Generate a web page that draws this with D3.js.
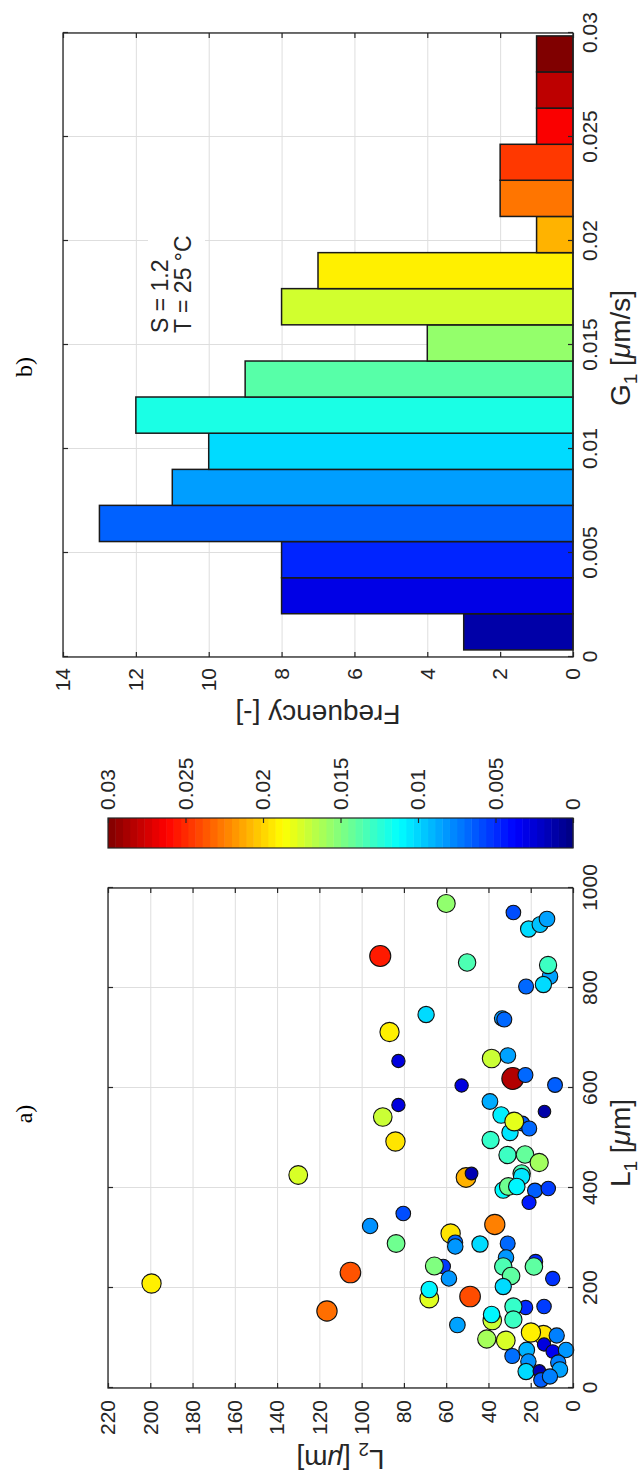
<!DOCTYPE html>
<html>
<head>
<meta charset="utf-8">
<script src="https://cdn.jsdelivr.net/npm/d3@7"></script>
<style>
  body { margin: 0; background: #fff; }
  svg { display: block; }
</style>
</head>
<body>
<svg id="fig" width="641" height="1484"></svg>
<script>
// ---- (a) crystal sizes L1, L2 [µm], coloured and sized by growth rate G1 [µm/s]
const L1 = [969, 951, 918, 927, 938, 864, 851, 823, 846, 807, 803, 747, 739, 737, 712, 654, 659, 665, 619, 626,
            605, 606, 566, 542, 553, 573, 546, 529, 519, 511, 533, 493, 496, 466, 467, 451, 421, 429, 429, 423,
            396, 403, 403, 395, 399, 371, 349, 327, 289, 309, 291, 283, 288, 289, 261, 243, 224, 203, 243, 244,
            219, 253, 243, 219, 179, 197, 183, 126, 135, 147, 161, 163, 137, 163, 98, 95, 106, 111, 105, 64,
            76, 53, 33, 87, 73, 76, 51, 37, 34, 16, 23, 209, 154, 231, 426, 324];
const L2 = [60, 28.2, 21, 15.6, 12.3, 91.2, 50.1, 10.9, 11.8, 14, 22.2, 69.5, 33.5, 32.5, 86.8, 82.6, 38.5, 30.8, 28.5, 22.5,
            52.7, 8.5, 82.6, 90, 13.5, 39.3, 34, 24, 20.7, 29.8, 27.8, 84, 39, 31, 22.7, 16, 50.6, 48, 24.3, 24.3,
            33, 30.6, 26.6, 18, 11.7, 20.8, 80.3, 37, 83.7, 57.9, 55.7, 55.7, 44, 30.9, 31.7, 33, 29.3, 33, 61.4, 65.6,
            58.7, 17.7, 18.5, 9.6, 68, 68, 48.7, 54.7, 38.2, 38.5, 22.4, 28.2, 28.2, 13.7, 40.8, 31.8, 14, 19.9, 7.7, 28.7,
            21.9, 21.1, 22.2, 13.7, 9.6, 3.3, 7, 6.2, 15.9, 15.1, 10.9, 199.4, 116.4, 105.3, 130, 96];
const G1 = [0.0155, 0.006, 0.0102, 0.0095, 0.0085, 0.0255, 0.0135, 0.0085, 0.013, 0.0102, 0.0068, 0.0102, 0.0082, 0.0068, 0.0192, 0.0028, 0.0172, 0.0085, 0.0285, 0.0068,
            0.0028, 0.0065, 0.0028, 0.0172, 0.0012, 0.0088, 0.0108, 0.0065, 0.0068, 0.0105, 0.018, 0.0195, 0.0128, 0.013, 0.0142, 0.016, 0.021, 0.0015, 0.0135, 0.0105,
            0.0112, 0.0145, 0.011, 0.0065, 0.0055, 0.0045, 0.006, 0.0225, 0.0145, 0.0195, 0.0068, 0.0082, 0.0102, 0.0068, 0.0082, 0.0135, 0.014, 0.0102, 0.0055, 0.015,
            0.0082, 0.005, 0.014, 0.0052, 0.0178, 0.011, 0.024, 0.0085, 0.0172, 0.011, 0.005, 0.0128, 0.013, 0.0055, 0.0161, 0.0176, 0.0195, 0.0192, 0.0075, 0.007,
            0.009, 0.008, 0.0102, 0.0028, 0.0033, 0.0082, 0.0075, 0.0085, 0.0015, 0.0065, 0.0075, 0.0192, 0.023, 0.0238, 0.0176, 0.008];
const L1Ticks = [0, 200, 400, 600, 800, 1000];
const L2Ticks = [0, 20, 40, 60, 80, 100, 120, 140, 160, 180, 200, 220];
const G1Ticks = [0, 0.005, 0.01, 0.015, 0.02, 0.025, 0.03];

// ---- (b) histogram of G1
const binEdges = [0.00034, 0.00208, 0.00381, 0.00555, 0.00729, 0.00902, 0.01076, 0.0125, 0.01423,
                  0.01597, 0.01771, 0.01944, 0.02118, 0.02292, 0.02465, 0.02639, 0.02813, 0.02986];
const binCounts = [3, 8, 8, 13, 11, 10, 12, 9, 4, 8, 7, 1, 2, 2, 1, 1, 1];
const freqTicks = [0, 2, 4, 6, 8, 10, 12, 14];
const annotation = ["S = 1.2", "T = 25 \u00B0C"];

// ---- styling
const FONT = "'Liberation Sans', Arial, Helvetica, sans-serif";
const SERIF = "'Liberation Serif', 'Times New Roman', serif";
const AX = "#262626";
const GRID = "#dedede";
const TICK_FS = 21, LABEL_FS = 28;

function jet(t) {
  const c = v => Math.max(0, Math.min(1, v));
  const r = c(1.5 - Math.abs(4 * t - 3));
  const gg = c(1.5 - Math.abs(4 * t - 2));
  const b = c(1.5 - Math.abs(4 * t - 1));
  return d3.rgb(r * 255, gg * 255, b * 255).formatHex();
}
const fmt = d3.format("~g");

// The figure is laid out landscape (1484 x 641) and turned a quarter turn.
const svg = d3.select("#fig");
const g = svg.append("g").attr("transform", "translate(0,1484) rotate(-90)");

function styleAxis(sel, labels) {
  sel.attr("font-family", FONT).attr("font-size", TICK_FS);
  sel.select(".domain").remove();
  sel.selectAll(".tick line").attr("stroke", AX).attr("stroke-width", 1.2);
  if (labels) sel.selectAll(".tick text").attr("fill", AX);
  else sel.selectAll(".tick text").remove();
}
function styleGrid(sel) {
  sel.select(".domain").remove();
  sel.selectAll(".tick text").remove();
  sel.selectAll(".tick line").attr("stroke", GRID).attr("stroke-width", 1);
}

// ================= panel (a) =================
const xA = d3.scaleLinear().domain([0, 1000]).range([96, 596]);
const yA = d3.scaleLinear().domain([0, 220]).range([573, 108]);
const colorT = d3.scaleLinear().domain([0, 0.03]).range([0, 1]).clamp(true);
const areaS = d3.scaleLinear().domain([0, 0.03]).range([36, 124]);

g.append("g").attr("transform", `translate(0,${yA(0)})`)
  .call(d3.axisBottom(xA).tickValues(L1Ticks).tickSize(-(yA(0) - yA(220))).tickFormat(""))
  .call(styleGrid);
g.append("g").attr("transform", `translate(${xA(0)},0)`)
  .call(d3.axisLeft(yA).tickValues(L2Ticks).tickSize(-(xA(1000) - xA(0))).tickFormat(""))
  .call(styleGrid);

const pts = L1.map((d, i) => ({ l1: d, l2: L2[i], g1: G1[i] }));
g.append("g").selectAll("circle").data(pts).join("circle")
  .attr("cx", d => xA(d.l1))
  .attr("cy", d => yA(d.l2))
  .attr("r", d => Math.sqrt(areaS(d.g1)))
  .attr("fill", d => jet(colorT(d.g1)))
  .attr("stroke", "#111")
  .attr("stroke-width", 1.1);

g.append("rect").attr("x", xA(0)).attr("y", yA(220))
  .attr("width", xA(1000) - xA(0)).attr("height", yA(0) - yA(220))
  .attr("fill", "none").attr("stroke", AX).attr("stroke-width", 1.3);

g.append("g").attr("transform", `translate(0,${yA(0)})`)
  .call(d3.axisBottom(xA).tickValues(L1Ticks).tickSize(-5).tickPadding(9).tickFormat(fmt))
  .call(s => styleAxis(s, true));
g.append("g").attr("transform", `translate(0,${yA(220)})`)
  .call(d3.axisTop(xA).tickValues(L1Ticks).tickSize(-5))
  .call(s => styleAxis(s, false));
g.append("g").attr("transform", `translate(${xA(0)},0)`)
  .call(d3.axisLeft(yA).tickValues(L2Ticks).tickSize(-5).tickPadding(12).tickFormat(fmt))
  .call(s => styleAxis(s, true));
g.append("g").attr("transform", `translate(${xA(1000)},0)`)
  .call(d3.axisRight(yA).tickValues(L2Ticks).tickSize(-5))
  .call(s => styleAxis(s, false));

// axis labels (a)
const lx = g.append("text").attr("x", (xA(0) + xA(1000)) / 2 - 5).attr("y", 630)
  .attr("text-anchor", "middle").attr("font-family", FONT).attr("font-size", LABEL_FS).attr("fill", AX);
lx.append("tspan").text("L");
lx.append("tspan").attr("dy", 7).attr("font-size", 19).text("1");
lx.append("tspan").attr("dy", -7).text(" [");
lx.append("tspan").attr("font-style", "italic").text("\u03BC");
lx.append("tspan").text("m]");

const ly = g.append("text")
  .attr("transform", `translate(34,${(yA(0) + yA(220)) / 2}) rotate(-90)`)
  .attr("text-anchor", "middle").attr("font-family", FONT).attr("font-size", LABEL_FS).attr("fill", AX);
ly.append("tspan").text("L");
ly.append("tspan").attr("dy", 7).attr("font-size", 19).text("2");
ly.append("tspan").attr("dy", -7).text(" [");
ly.append("tspan").attr("font-style", "italic").text("\u03BC");
ly.append("tspan").text("m]");

g.append("text").attr("x", 370).attr("y", 32).attr("text-anchor", "middle")
  .attr("font-family", SERIF).attr("font-size", 24).attr("fill", "#000").text("a)");

// ================= colorbar =================
const cbY = d3.scaleLinear().domain([0, 0.03]).range([573, 108]);
const cbX0 = 636, cbX1 = 666;
const nBands = 64;
g.append("g").selectAll("rect").data(d3.range(nBands)).join("rect")
  .attr("x", cbX0).attr("width", cbX1 - cbX0)
  .attr("y", k => cbY((k + 1) / nBands * 0.03))
  .attr("height", k => cbY(k / nBands * 0.03) - cbY((k + 1) / nBands * 0.03) + 0.5)
  .attr("fill", k => jet((k + 0.5) / nBands));
g.append("rect").attr("x", cbX0).attr("y", cbY(0.03)).attr("width", cbX1 - cbX0)
  .attr("height", cbY(0) - cbY(0.03)).attr("fill", "none").attr("stroke", AX).attr("stroke-width", 1.2);
g.append("g").attr("transform", `translate(${cbX1},0)`)
  .call(d3.axisRight(cbY).tickValues(G1Ticks).tickSize(-5).tickPadding(8).tickFormat(fmt))
  .call(s => styleAxis(s, true));

// ================= panel (b) =================
const xB = d3.scaleLinear().domain([0, 0.03]).range([827, 1451]);
const yB = d3.scaleLinear().domain([0, 14]).range([573, 63]);
const barT = d3.scaleLinear().domain([0, binCounts.length - 1]).range([0.04, 1]);

g.append("g").attr("transform", `translate(0,${yB(0)})`)
  .call(d3.axisBottom(xB).tickValues(G1Ticks).tickSize(-(yB(0) - yB(14))).tickFormat(""))
  .call(styleGrid);
g.append("g").attr("transform", `translate(${xB(0)},0)`)
  .call(d3.axisLeft(yB).tickValues(freqTicks).tickSize(-(xB(0.03) - xB(0))).tickFormat(""))
  .call(styleGrid);

g.append("g").selectAll("rect").data(binCounts).join("rect")
  .attr("x", (d, i) => xB(binEdges[i]))
  .attr("width", (d, i) => xB(binEdges[i + 1]) - xB(binEdges[i]))
  .attr("y", d => yB(d))
  .attr("height", d => yB(0) - yB(d))
  .attr("fill", (d, i) => jet(barT(i)))
  .attr("stroke", "#1a1a1a").attr("stroke-width", 1.5);

// annotation with white background
g.append("rect").attr("x", 1145).attr("y", 148).attr("width", 108).attr("height", 57).attr("fill", "#fff");
g.append("g").selectAll("text").data(annotation).join("text")
  .attr("x", 1151).attr("y", (d, i) => 168 + i * 23)
  .attr("font-family", FONT).attr("font-size", 23).attr("fill", AX)
  .text(d => d);

g.append("rect").attr("x", xB(0)).attr("y", yB(14))
  .attr("width", xB(0.03) - xB(0)).attr("height", yB(0) - yB(14))
  .attr("fill", "none").attr("stroke", AX).attr("stroke-width", 1.3);

g.append("g").attr("transform", `translate(0,${yB(0)})`)
  .call(d3.axisBottom(xB).tickValues(G1Ticks).tickSize(-5).tickPadding(9).tickFormat(fmt))
  .call(s => styleAxis(s, true));
g.append("g").attr("transform", `translate(0,${yB(14)})`)
  .call(d3.axisTop(xB).tickValues(G1Ticks).tickSize(-5))
  .call(s => styleAxis(s, false));
g.append("g").attr("transform", `translate(${xB(0)},0)`)
  .call(d3.axisLeft(yB).tickValues(freqTicks).tickSize(-5).tickPadding(11).tickFormat(fmt))
  .call(s => styleAxis(s, true));
g.append("g").attr("transform", `translate(${xB(0.03)},0)`)
  .call(d3.axisRight(yB).tickValues(freqTicks).tickSize(-5))
  .call(s => styleAxis(s, false));

const gx = g.append("text").attr("x", (xB(0) + xB(0.03)) / 2 - 3).attr("y", 630)
  .attr("text-anchor", "middle").attr("font-family", FONT).attr("font-size", LABEL_FS).attr("fill", AX);
gx.append("tspan").text("G");
gx.append("tspan").attr("dy", 7).attr("font-size", 19).text("1");
gx.append("tspan").attr("dy", -7).text(" [");
gx.append("tspan").attr("font-style", "italic").text("\u03BC");
gx.append("tspan").text("m/s]");

g.append("text")
  .attr("transform", `translate(779,${(yB(0) + yB(14)) / 2}) rotate(-90)`)
  .attr("text-anchor", "middle").attr("font-family", FONT).attr("font-size", LABEL_FS).attr("fill", AX)
  .text("Frequency [-]");

g.append("text").attr("x", 1117).attr("y", 32).attr("text-anchor", "middle")
  .attr("font-family", SERIF).attr("font-size", 24).attr("fill", "#000").text("b)");
</script>
</body>
</html>
